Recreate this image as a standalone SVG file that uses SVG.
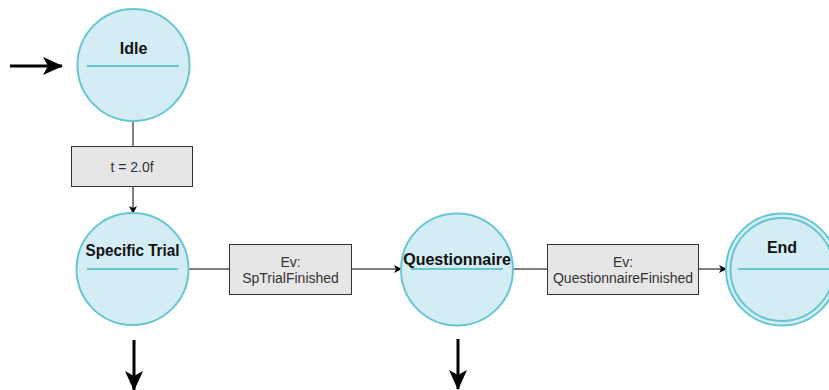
<svg xmlns="http://www.w3.org/2000/svg" width="829" height="390" viewBox="0 0 829 390">
  <style>
    .state { fill: #d4ecf3; stroke: #66c7d3; stroke-width: 2; }
    .sep { stroke: #66c7d3; stroke-width: 2; }
    .title { font-family: "Liberation Sans", Arial, sans-serif; font-size: 16px; font-weight: bold; fill: #111; text-anchor: middle; }
    .guard { fill: #e6e6e6; stroke: #333; stroke-width: 1; }
    .glabel { font-family: "Liberation Sans", Arial, sans-serif; font-size: 14px; fill: #333; text-anchor: middle; }
    .edge { stroke: #000; stroke-width: 1; fill: none; }
    .bold-edge { stroke: #000; stroke-width: 3; fill: none; }
  </style>
  <defs>
    <marker id="arrow" markerWidth="8" markerHeight="8" refX="7" refY="4" orient="auto" markerUnits="userSpaceOnUse">
      <path d="M0,0 L8,4 L0,8 L2,4 Z" fill="#000"/>
    </marker>
    <marker id="bigArrow" markerWidth="20" markerHeight="20" refX="19" refY="10" orient="auto" markerUnits="userSpaceOnUse">
      <path d="M0,1 L20,10 L0,19 L5,10 Z" fill="#000"/>
    </marker>
  </defs>

  <!-- transitions -->
  <g id="connectors">
    <line class="bold-edge" x1="10" y1="66" x2="62" y2="66" marker-end="url(#bigArrow)"/>
    <line class="edge" x1="133" y1="121" x2="133" y2="146"/>
    <line class="edge" x1="133" y1="187" x2="133" y2="213" marker-end="url(#arrow)"/>
    <line class="edge" x1="188" y1="269" x2="229" y2="269"/>
    <line class="edge" x1="352" y1="269" x2="401" y2="269" marker-end="url(#arrow)"/>
    <line class="edge" x1="513" y1="269" x2="547" y2="269"/>
    <line class="edge" x1="699" y1="269" x2="726" y2="269" marker-end="url(#arrow)"/>
    <line class="bold-edge" x1="134" y1="340" x2="134" y2="390" marker-end="url(#bigArrow)"/>
    <line class="bold-edge" x1="458" y1="339" x2="458" y2="389" marker-end="url(#bigArrow)"/>
  </g>

  <g id="idle">
    <circle class="state" cx="133.5" cy="65" r="56"/>
    <line class="sep" x1="87" y1="66" x2="179" y2="66"/>
    <text class="title" x="133.5" y="54">Idle</text>
  </g>

  <g id="guard-timer">
    <rect class="guard" x="71.5" y="146.5" width="121" height="40"/>
    <text class="glabel" x="132" y="172">t = 2.0f</text>
  </g>

  <g id="specific-trial">
    <circle class="state" cx="132.5" cy="269" r="56"/>
    <line class="sep" x1="87" y1="269" x2="178" y2="269"/>
    <text class="title" x="132.5" y="256" textLength="94" lengthAdjust="spacingAndGlyphs">Specific Trial</text>
  </g>

  <g id="guard-sptrial">
    <rect class="guard" x="229.5" y="244.5" width="122" height="50"/>
    <text class="glabel" x="290.5" y="267">Ev:</text>
    <text class="glabel" x="290.5" y="283">SpTrialFinished</text>
  </g>

  <g id="questionnaire">
    <circle class="state" cx="457" cy="269.5" r="56"/>
    <line class="sep" x1="411" y1="269" x2="503" y2="269"/>
    <text class="title" x="457" y="265">Questionnaire</text>
  </g>

  <g id="guard-questionnaire">
    <rect class="guard" x="547.5" y="244.5" width="151" height="50"/>
    <text class="glabel" x="623" y="267">Ev:</text>
    <text class="glabel" x="623" y="283">QuestionnaireFinished</text>
  </g>

  <g id="end">
    <circle class="state" cx="782" cy="269.5" r="56"/>
    <circle cx="782" cy="269.5" r="51.5" fill="none" stroke="#66c7d3" stroke-width="2"/>
    <line class="sep" x1="738" y1="269" x2="829" y2="269"/>
    <text class="title" x="782" y="253">End</text>
  </g>
</svg>
